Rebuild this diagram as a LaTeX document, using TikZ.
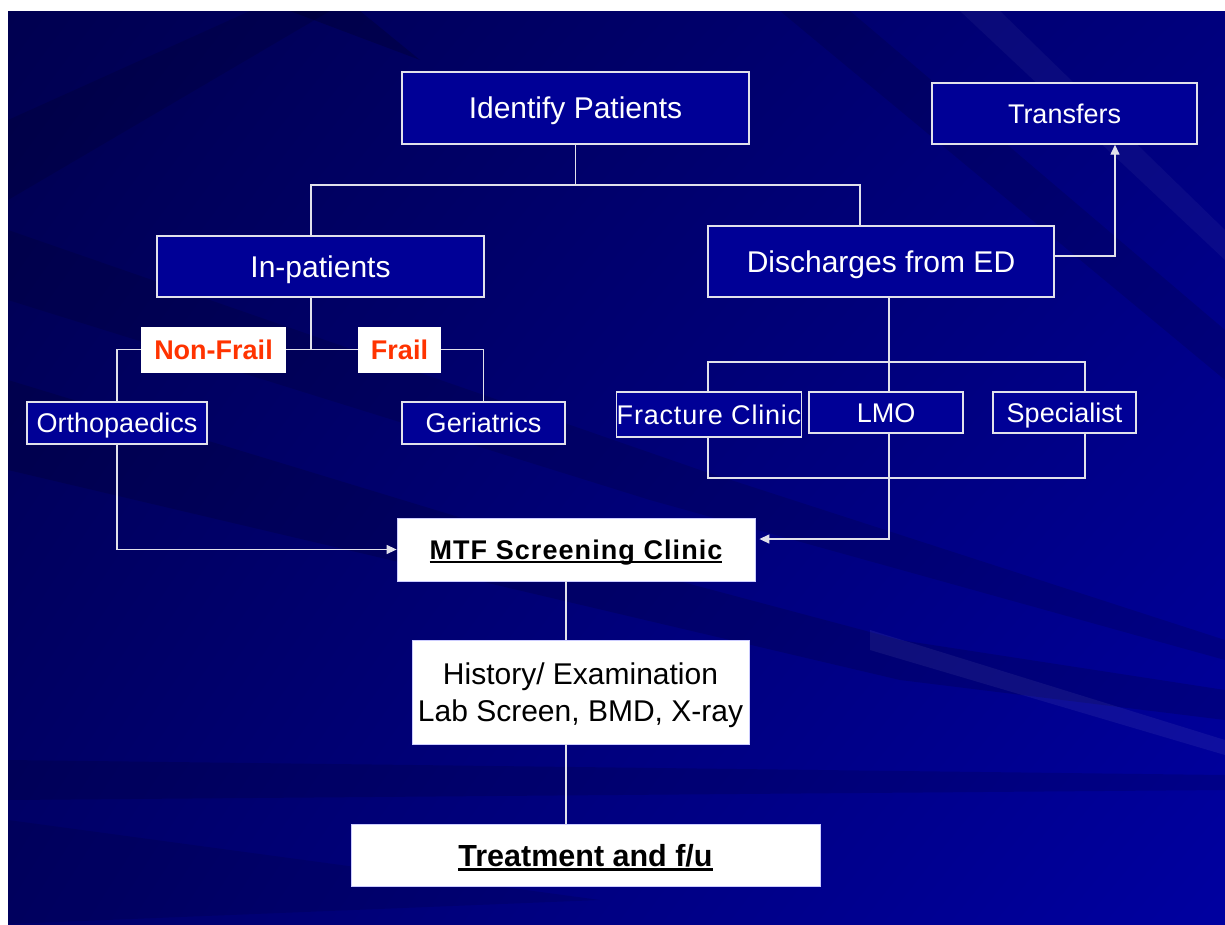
\documentclass[tikz,border=0pt]{standalone}
\usepackage{fontspec}
\setmainfont{Liberation Sans}
\usetikzlibrary{arrows.meta,shadings}
\definecolor{boxblue}{RGB}{0,0,150}
\definecolor{linegray}{RGB}{225,225,235}
\definecolor{labred}{RGB}{255,51,0}
\definecolor{bgA}{RGB}{0,0,80}
\definecolor{bgB}{RGB}{0,0,125}
\definecolor{bgC}{RGB}{0,0,105}
\definecolor{bgD}{RGB}{0,0,160}
\newcommand{\myul}[3]{\leavevmode\setbox0=\hbox{#3}\rlap{\rule[-#1]{\wd0}{#2}}\box0}
\tikzset{
  bluebox/.style={draw=linegray, line width=1.4pt, fill=boxblue, text=white, inner sep=0pt, text depth=0pt},
  whitebox/.style={draw=white!80!blue, line width=0.8pt, fill=white, text=black, inner sep=0pt},
  redlabel/.style={fill=white, text=labred, inner sep=0pt, text height=19.3pt, text depth=0pt, font=\fontsize{27}{30}\selectfont\bfseries},
  big/.style={text height=21.5pt, font=\fontsize{30}{36}\selectfont},
  small/.style={text height=19.3pt, font=\fontsize{27}{30}\selectfont},
  conn/.style={draw=linegray, line width=1.4pt},
  arr/.style={conn, -{Triangle[length=10pt,width=9pt]}}
}
\begin{document}
\begin{tikzpicture}[x=1pt,y=-1pt]
\useasboundingbox (0,0) rectangle (1225,924);
\fill[white] (0,0) rectangle (1225,924);
% background
\shade[upper left=bgA, upper right=bgB, lower left=bgC, lower right=bgD] (8,11) rectangle (1225,924);
\begin{scope}
\clip (8,11) rectangle (1225,924);
\fill[black, opacity=0.12] (8,120) -- (250,11) -- (330,11) -- (8,200) -- cycle;
\fill[black, opacity=0.14] (8,380) -- (600,560) -- (900,640) -- (1225,690) -- (1225,720) -- (900,680) -- (8,470) -- cycle;
\fill[black, opacity=0.12] (8,230) -- (700,470) -- (1225,640) -- (1225,660) -- (650,500) -- (8,300) -- cycle;
\fill[black, opacity=0.18] (290,11) -- (360,11) -- (420,60) -- cycle;
\fill[black, opacity=0.12] (850,11) -- (1225,330) -- (1225,380) -- (780,11) -- cycle;
\fill[black, opacity=0.12] (8,760) -- (1225,775) -- (1225,790) -- (8,800) -- cycle;
\fill[white, opacity=0.06] (870,630) -- (1225,740) -- (1225,755) -- (870,650) -- cycle;
\fill[white, opacity=0.04] (1000,11) -- (1225,230) -- (1225,260) -- (960,11) -- cycle;
\fill[black, opacity=0.10] (8,820) -- (600,900) -- (8,924) -- cycle;
\end{scope}
% nodes
\node[bluebox, big, minimum width=347pt, minimum height=72pt] (ident) at (575.5,108) {Identify Patients};
\node[bluebox, small, minimum width=265pt, minimum height=61pt] (transf) at (1064.5,113.5) {Transfers};
\node[bluebox, big, minimum width=327pt, minimum height=61pt] (inpat) at (320.5,266.5) {In-patients};
\node[bluebox, big, minimum width=346pt, minimum height=71pt] (disch) at (881,261.5) {Discharges from ED};
\node[redlabel, minimum width=145pt, minimum height=46pt] (nonfrail) at (213.5,349.5) {Non-Frail};
\node[redlabel, minimum width=83pt, minimum height=46pt] (frail) at (399.5,349.5) {Frail};
\node[bluebox, small, minimum width=180pt, minimum height=42pt] (ortho) at (117,423) {Orthopaedics};
\node[bluebox, small, minimum width=163pt, minimum height=42pt] (geri) at (483.5,423) {Geriatrics};
\node[bluebox, small, minimum width=184pt, minimum height=45pt, font=\fontsize{27}{30}\selectfont\addfontfeature{LetterSpace=3}] (fract) at (709,414.5) {Fracture Clinic};
\node[bluebox, small, minimum width=154pt, minimum height=41pt] (lmo) at (886,412.5) {LMO};
\node[bluebox, small, minimum width=143pt, minimum height=41pt] (spec) at (1064.5,412.5) {Specialist};
\node[whitebox, minimum width=358pt, minimum height=63pt, text height=19.3pt, text depth=0pt, font=\fontsize{27}{30}\selectfont\bfseries\addfontfeature{LetterSpace=4}] (mtf) at (576,549.5) {\myul{4pt}{2.5pt}{MTF Screening Clinic}};
\node[whitebox, minimum width=337pt, minimum height=104pt, align=center, text depth=0pt, font=\fontsize{30}{37}\selectfont] (hist) at (580.5,692) {History/ Examination\\Lab Screen, BMD, X-ray};
\node[whitebox, minimum width=469pt, minimum height=62pt, text height=22pt, text depth=0pt, font=\fontsize{30.5}{36}\selectfont\bfseries] (treat) at (585.5,855) {\myul{5pt}{3pt}{Treatment and f/u}};
% junction coordinates
\coordinate (jL) at (311,185);
\coordinate (jR) at (860,185);
\coordinate (jM) at (311,349.5);
\coordinate (bT) at (889,362);
\coordinate (bL) at (708,362);
\coordinate (bR) at (1085,362);
\coordinate (cL) at (708,478);
\coordinate (cM) at (889,478);
\coordinate (cR) at (1085,478);
\coordinate (cA) at (889,539);
\coordinate (tr) at (1115,256);
\coordinate (vx) at (566,600);
% connectors
\draw[conn] (ident.south) -- (ident.south |- jL);
\draw[conn] (jL |- inpat.north) -- (jL) -- (jR) -- (jR |- disch.north);
\draw[conn] (jM |- inpat.south) -- (jM);
\draw[conn] (jM) -- (nonfrail.east);
\draw[conn] (jM) -- (frail.west);
\draw[conn] (ortho.north) |- (nonfrail.west);
\draw[conn] (frail.east) -| (geri.north);
\draw[arr] (ortho.south) |- (mtf.west);
\draw[conn] (bT |- disch.south) -- (bT |- lmo.north);
\draw[conn] (bL |- fract.north) -- (bL) -- (bR) -- (bR |- spec.north);
\draw[conn] (cL |- fract.south) -- (cL) -- (cR) -- (cR |- spec.south);
\draw[conn] (cM |- lmo.south) -- (cM);
\draw[arr, shorten >=4pt] (cM) -- (cA) -- (mtf.east |- cA);
\draw[arr] (disch.east |- tr) -- (tr) -- (tr |- transf.south);
\draw[conn] (vx |- mtf.south) -- (vx |- hist.north);
\draw[conn] (vx |- hist.south) -- (vx |- treat.north);
\end{tikzpicture}
\end{document}
